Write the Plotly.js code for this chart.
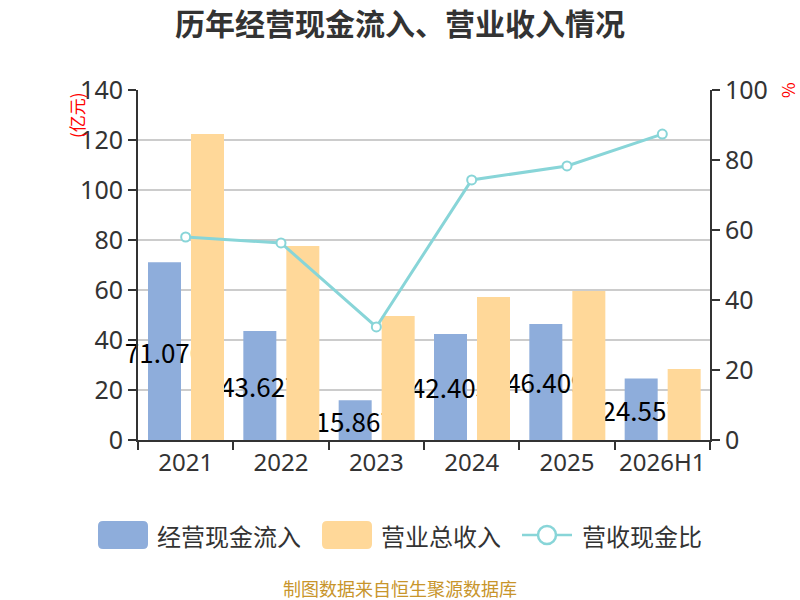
<!DOCTYPE html>
<html>
<head>
<meta charset="utf-8">
<script src="https://cdn.plot.ly/plotly-3.0.1.min.js"></script>
<style>html,body{margin:0;padding:0;background:#fff;}#chart{width:800px;height:600px;}</style>
</head>
<body>
<div id="chart"></div>
<script>
const categories = ['2021', '2022', '2023', '2024', '2025', '2026H1'];
const cashInflow = [71.070, 43.627, 15.867, 42.403, 46.409, 24.557];
const revenue = [122.4, 77.6, 49.6, 57.2, 59.6, 28.4];
const ratio = [58.0, 56.3, 32.3, 74.3, 78.3, 87.4];
const seriesNames = ['经营现金流入', '营业总收入', '营收现金比'];
const titleText = '历年经营现金流入、营业收入情况';
const leftUnit = '(亿元)';
const rightUnit = '%';
const sourceText = '制图数据来自恒生聚源数据库';

const FONT = '"Noto Sans CJK SC", "Noto Sans", sans-serif';
const NUMFONT = '"Noto Sans", "Noto Sans CJK SC", sans-serif';
const LABELFONT = '"Noto Sans CJK SC", "Noto Sans", sans-serif';
const BLUE = '#8EADDB';
const ORANGE = '#FFD899';
const TEAL = '#88D5D8';

// plot area in pixels
const L = 138, R = 710, T = 90, B = 440;
const px = x => (x - L) / (R - L);
const py = y => (B - y) / (B - T);

function roundRect(x0, y0, x1, y1, r) {
  const X0 = px(x0), X1 = px(x1), Y0 = py(y0), Y1 = py(y1);
  const rx = r / (R - L), ry = r / (B - T);
  return `M ${X0 + rx} ${Y0} L ${X1 - rx} ${Y0} Q ${X1} ${Y0} ${X1} ${Y0 - ry} L ${X1} ${Y1 + ry} Q ${X1} ${Y1} ${X1 - rx} ${Y1} L ${X0 + rx} ${Y1} Q ${X0} ${Y1} ${X0} ${Y1 + ry} L ${X0} ${Y0 - ry} Q ${X0} ${Y0} ${X0 + rx} ${Y0} Z`;
}

const catW = (R - L) / categories.length;
const barW = 33 / catW;

const traces = [
  {
    type: 'bar', name: seriesNames[0], x: categories, y: cashInflow,
    marker: { color: BLUE }, width: barW, offset: (148 - (L + catW / 2)) / catW,
    text: cashInflow.map(v => v.toFixed(3)), textposition: 'inside', insidetextanchor: 'middle',
    constraintext: 'none', textangle: 0, cliponaxis: false,
    textfont: { size: 26, color: '#000', family: LABELFONT },
    showlegend: false, hoverinfo: 'x+y'
  },
  {
    type: 'bar', name: seriesNames[1], x: categories, y: revenue,
    marker: { color: ORANGE }, width: barW, offset: (191 - (L + catW / 2)) / catW,
    showlegend: false, hoverinfo: 'x+y'
  },
  {
    type: 'scatter', mode: 'lines+markers', name: seriesNames[2], x: categories, y: ratio, yaxis: 'y2',
    line: { color: TEAL, width: 3 },
    marker: { symbol: 'circle', size: 9, color: '#fff', line: { color: TEAL, width: 2 } },
    showlegend: false, cliponaxis: false
  }
];

const legY0 = 521, legY1 = 549, legYc = 535;
const shapes = [
  { type: 'path', xref: 'paper', yref: 'paper', path: roundRect(98, legY0, 148, legY1, 5), fillcolor: BLUE, line: { width: 0 } },
  { type: 'path', xref: 'paper', yref: 'paper', path: roundRect(322, legY0, 372, legY1, 5), fillcolor: ORANGE, line: { width: 0 } },
  { type: 'line', xref: 'paper', yref: 'paper', x0: px(522), x1: px(572), y0: py(legYc), y1: py(legYc), line: { color: TEAL, width: 2.5 } },
  { type: 'circle', xref: 'paper', yref: 'paper', x0: px(538), x1: px(556), y0: py(legYc - 9), y1: py(legYc + 9), fillcolor: '#fff', line: { color: TEAL, width: 2.5 } }
];

const annotations = [
  { xref: 'paper', yref: 'paper', x: px(155), y: py(legYc), xanchor: 'left', yanchor: 'middle', text: seriesNames[0], showarrow: false, font: { size: 24, color: '#333', family: FONT } },
  { xref: 'paper', yref: 'paper', x: px(379), y: py(legYc), xanchor: 'left', yanchor: 'middle', text: seriesNames[1], showarrow: false, font: { size: 24, color: '#333', family: FONT } },
  { xref: 'paper', yref: 'paper', x: px(580), y: py(legYc), xanchor: 'left', yanchor: 'middle', text: seriesNames[2], showarrow: false, font: { size: 24, color: '#333', family: FONT } },
  { xref: 'paper', yref: 'paper', x: px(400), y: py(588), xanchor: 'center', yanchor: 'middle', text: sourceText, showarrow: false, font: { size: 18, color: '#C8952B', family: FONT } },
  { xref: 'paper', yref: 'paper', x: px(77), y: py(115), xanchor: 'center', yanchor: 'middle', text: leftUnit, textangle: -90, showarrow: false, font: { size: 17, color: '#FF0000', family: FONT } },
  { xref: 'paper', yref: 'paper', x: px(787), y: py(90), xanchor: 'center', yanchor: 'middle', text: rightUnit, textangle: -90, showarrow: false, font: { size: 17, color: '#FF0000', family: FONT } }
];

const layout = {
  width: 800, height: 600,
  margin: { l: L, r: 800 - R, t: T, b: 600 - B },
  paper_bgcolor: '#fff', plot_bgcolor: '#fff',
  title: { text: '<b>' + titleText + '</b>', x: 0.5, xanchor: 'center', y: 1 - 24 / 600, yanchor: 'middle', yref: 'container', font: { size: 30, color: '#333', family: FONT } },
  barmode: 'overlay',
  showlegend: false,
  xaxis: {
    type: 'category', range: [-0.5, categories.length - 0.5],
    showline: true, linecolor: '#333', linewidth: 2,
    ticks: 'outside', tickson: 'boundaries', ticklen: 8, tickcolor: '#333', tickwidth: 2,
    tickangle: 0, automargin: false,
    tickfont: { size: 24, color: '#333', family: NUMFONT }, showgrid: false, zeroline: false
  },
  yaxis: {
    range: [0, 140], dtick: 20, tick0: 0,
    showline: true, linecolor: '#333', linewidth: 2,
    ticks: 'outside', ticklen: 8, tickcolor: '#333', tickwidth: 2,
    tickfont: { size: 25, color: '#333', family: NUMFONT },
    showgrid: true, gridcolor: '#CCCCCC', gridwidth: 2, zeroline: false
  },
  yaxis2: {
    overlaying: 'y', side: 'right', range: [0, 100], dtick: 20, tick0: 0,
    showline: true, linecolor: '#333', linewidth: 2,
    ticks: 'outside', ticklen: 8, tickcolor: '#333', tickwidth: 2,
    tickfont: { size: 25, color: '#333', family: NUMFONT },
    showgrid: false, zeroline: false
  },
  shapes: shapes,
  annotations: annotations
};

Plotly.newPlot('chart', traces, layout, { displayModeBar: false, staticPlot: true });
</script>
</body>
</html>
